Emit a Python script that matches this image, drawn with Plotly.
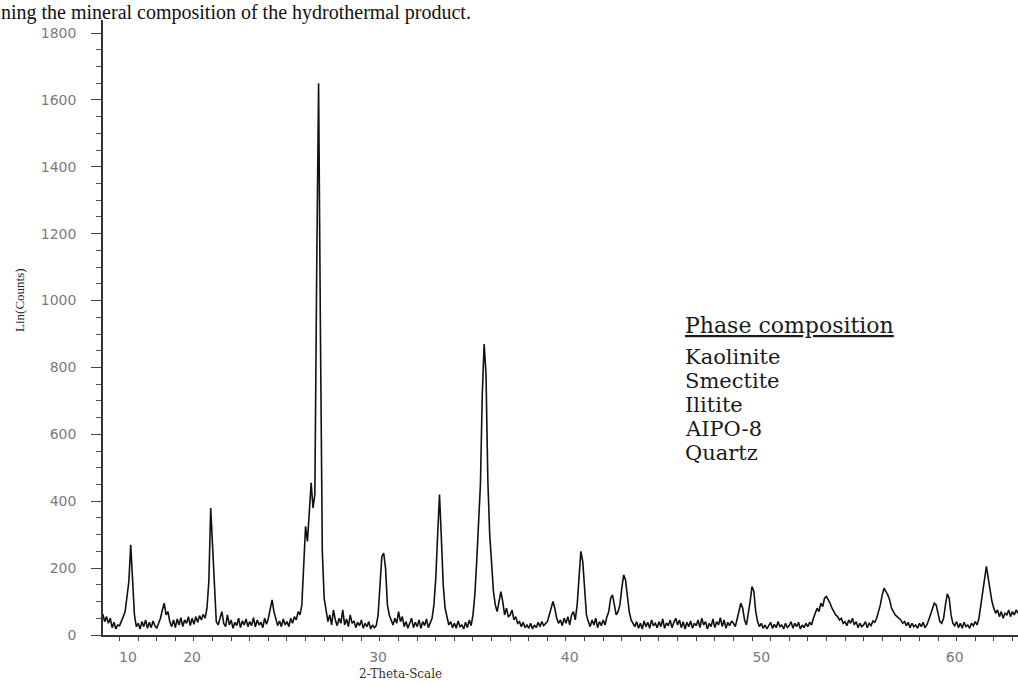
import numpy as np
import plotly.graph_objects as go

# ---------------- data ----------------
two_theta_start = 15.0   # degrees 2-theta of first sample
two_theta_step = 0.1     # sampling step

# intensities (Lin counts), one row per degree of 2-theta (15.0 ... 64.4)
counts = [
    48, 62, 40, 55, 35, 50, 22, 38, 18, 30,          # 15
    28, 45, 55, 70, 110, 160, 270, 150, 60, 25,      # 16
    35, 18, 40, 25, 45, 20, 38, 22, 42, 28,          # 17
    20, 35, 50, 75, 95, 60, 70, 40, 25, 45,          # 18
    22, 48, 30, 52, 25, 45, 35, 55, 28, 50,          # 19
    32, 55, 38, 58, 45, 62, 50, 80, 160, 380,        # 20
    250, 120, 40, 30, 55, 70, 35, 25, 60, 30,        # 21
    45, 20, 38, 28, 50, 22, 42, 30, 48, 25,          # 22
    40, 28, 52, 24, 45, 30, 38, 22, 50, 32,          # 23
    50, 75, 105, 70, 45, 28, 42, 25, 48, 30,         # 24
    40, 25, 50, 35, 55, 45, 70, 60, 90, 200,         # 25
    325, 280, 360, 455, 380, 420, 1100, 1650, 900, 250,  # 26
    110, 75, 40, 60, 30, 75, 45, 28, 50, 35,         # 27
    75, 30, 48, 25, 60, 35, 42, 22, 38, 28,          # 28
    45, 20, 35, 25, 40, 18, 30, 22, 28, 60,          # 29
    150, 235, 245, 200, 90, 60, 45, 30, 50, 35,      # 30
    70, 40, 55, 25, 40, 20, 35, 50, 22, 38,          # 31
    25, 45, 20, 40, 28, 48, 22, 35, 50, 90,          # 32
    170, 300, 420, 290, 150, 80, 50, 30, 40, 22,     # 33
    35, 20, 42, 25, 30, 18, 38, 22, 45, 28,          # 34
    60, 120, 220, 320, 450, 720, 870, 780, 460, 300, # 35
    210, 130, 90, 70, 100, 130, 100, 60, 80, 55,     # 36
    60, 75, 45, 55, 35, 40, 25, 38, 22, 30,          # 37
    20, 35, 18, 30, 22, 38, 25, 40, 28, 35,          # 38
    40, 60, 85, 100, 80, 50, 35, 45, 28, 50,         # 39
    35, 55, 30, 60, 70, 45, 90, 170, 250, 220,       # 40
    120, 60, 40, 25, 45, 30, 50, 22, 40, 28,         # 41
    45, 30, 55, 70, 110, 120, 90, 60, 70, 90,        # 42
    140, 180, 165, 110, 70, 45, 35, 25, 40, 20,      # 43
    35, 18, 42, 25, 38, 20, 45, 28, 35, 22,          # 44
    40, 25, 48, 20, 36, 28, 45, 22, 38, 50,          # 45
    30, 45, 22, 40, 18, 38, 25, 42, 20, 35,          # 46
    28, 45, 22, 50, 30, 40, 18, 35, 25, 48,          # 47
    22, 40, 30, 52, 25, 45, 20, 38, 28, 42,          # 48
    35, 25, 48, 70, 95, 80, 45, 30, 60, 100,         # 49
    145, 130, 70, 40, 25, 35, 20, 30, 18, 28,        # 50
    38, 20, 32, 22, 40, 25, 30, 18, 35, 22,          # 51
    28, 40, 20, 35, 25, 38, 18, 30, 22, 35,          # 52
    25, 38, 30, 50, 65, 80, 70, 95, 85, 110,         # 53
    115, 105, 95, 80, 70, 60, 55, 45, 50, 35,        # 54
    40, 28, 45, 35, 50, 30, 40, 22, 35, 25,          # 55
    30, 40, 22, 35, 28, 42, 38, 50, 70, 90,          # 56
    120, 140, 130, 120, 105, 80, 70, 60, 55, 50,     # 57
    45, 35, 40, 28, 38, 22, 35, 25, 30, 20,          # 58
    35, 25, 38, 22, 30, 45, 60, 80, 95, 90,          # 59
    60, 40, 35, 50, 90, 123, 110, 60, 35, 28,        # 60
    40, 22, 35, 20, 38, 25, 30, 20, 35, 28,          # 61
    40, 30, 50, 90, 140, 180, 205, 170, 130, 100,    # 62
    80, 65, 75, 55, 70, 50, 65, 60, 75, 55,          # 63
    70, 60, 75, 65, 80,                              # 64
]

# tick labels as they appear on the picture
x_tick_positions = [16.45, 19.9, 29.9, 40.2, 50.5, 60.9]
x_tick_labels = ["10", "20", "30", "40", "50", "60"]
y_tick_values = [0, 200, 400, 600, 800, 1000, 1200, 1400, 1600, 1800]
y_tick_labels = ["0", "200", "400", "600", "800", "1000", "1200", "1400", "1600", "1800"]

phase_title = "Phase composition"
phases = ["Kaolinite", "Smectite", "Ilitite", "AIPO-8", "Quartz"]
caption_text = "ning the mineral composition of the hydrothermal product."

x_range = [15.11, 64.3]
y_range = [0, 1839]

# ---------------- figure ----------------
two_theta = np.round(two_theta_start + two_theta_step * np.arange(len(counts)), 2)

fig = go.Figure()
fig.add_trace(go.Scatter(
    x=two_theta, y=counts, mode="lines",
    line=dict(color="#111111", width=1.6),
    hoverinfo="x+y",
))

W, H = 1018, 686
L, R, T, B = 103, 0, 20, 51
plot_h = H - T - B
plot_w = W - L - R


def py(pix):  # pixel row -> paper y
    return (H - B - pix) / plot_h


def px(pix):  # pixel column -> paper x
    return (pix - L) / plot_w


tick_font = dict(family="DejaVu Sans", size=14, color="#7a7a7a")

fig.update_layout(
    width=W, height=H,
    margin=dict(l=L, r=R, t=T, b=B),
    paper_bgcolor="white", plot_bgcolor="white",
    showlegend=False,
    xaxis=dict(
        range=x_range, showgrid=False, zeroline=False,
        showline=True, linecolor="#333333", linewidth=1.5,
        tickmode="array", tickvals=x_tick_positions, ticktext=x_tick_labels,
        ticks="", tickfont=tick_font, ticklabelstandoff=8,
        minor=dict(ticks="outside", dtick=1, tick0=0, ticklen=4,
                   tickcolor="#444444", tickwidth=1),
    ),
    yaxis=dict(
        range=y_range, showgrid=False, zeroline=False,
        showline=True, linecolor="#333333", linewidth=1.5,
        tickmode="array", tickvals=y_tick_values, ticktext=y_tick_labels,
        ticks="outside", ticklen=10, tickcolor="#444444", tickwidth=1,
        tickfont=tick_font, ticklabelstandoff=12,
        minor=dict(ticks="outside", dtick=50, tick0=0, ticklen=5,
                   tickcolor="#555555", tickwidth=1),
    ),
)

ann = []
# caption fragment at the top
ann.append(dict(text=caption_text, xref="paper", yref="paper",
                x=px(0), y=py(0), xanchor="left", yanchor="top",
                showarrow=False, borderpad=0,
                font=dict(family="Liberation Serif", size=20, color="#111111")))
# axis titles
ann.append(dict(text="Lin(Counts)", xref="paper", yref="paper",
                x=px(19), y=py(300), xanchor="center", yanchor="middle",
                textangle=-90, showarrow=False,
                font=dict(family="Liberation Serif", size=13, color="#222222")))
ann.append(dict(text="2-Theta-Scale", xref="paper", yref="paper",
                x=px(400), y=py(674), xanchor="center", yanchor="middle",
                showarrow=False,
                font=dict(family="DejaVu Serif", size=12, color="#333333")))
# phase composition block
ann.append(dict(text="<u>" + phase_title + "</u>", xref="paper", yref="paper",
                x=px(683), y=py(325), xanchor="left", yanchor="middle",
                showarrow=False,
                font=dict(family="DejaVu Serif", size=22, color="#1a1a1a")))
for i, name in enumerate(phases):
    ann.append(dict(text=name, xref="paper", yref="paper",
                    x=px(683), y=py(357 + 24 * i), xanchor="left", yanchor="middle",
                    showarrow=False,
                    font=dict(family="DejaVu Serif", size=21, color="#1a1a1a")))
fig.update_layout(annotations=ann)

# remove the default 8px page margin so the figure sits at the window corner
fig.write_html("out.html", config={"displayModeBar": False},
               post_script="document.body.style.margin='0';")
